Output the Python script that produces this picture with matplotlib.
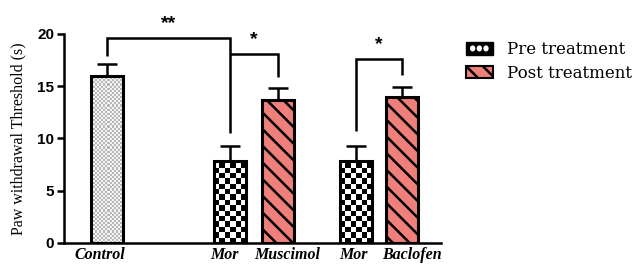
import numpy as np
import matplotlib
matplotlib.use("Agg")
import matplotlib.pyplot as plt
from matplotlib.patches import Rectangle, Ellipse
from matplotlib.legend_handler import HandlerBase

# ---- data ----
labels = ["Control", "Mor", "Muscimol", "Mor", "Baclofen"]
groups = ["control", "pre", "post", "pre", "post"]
means = [16.0, 7.85, 13.7, 7.85, 14.0]
errs = [1.15, 1.45, 1.1, 1.45, 0.9]
yticks = [0, 5, 10, 15, 20]
legend_labels = ["Pre treatment", "Post treatment"]
# significance: (left bar idx, right bar idx, top y, left end y, right end y, text)
sig = [(0, 1, 19.6, 17.9, 10.5, "**"),
       (1, 2, 18.1, 18.1, 15.9, "*"),
       (3, 4, 17.6, 10.7, 16.1, "*")]

# ---- layout ----
pos = [0.0, 3.85, 5.35, 7.77, 9.22]
label_shift = [-0.22, -0.16, 0.28, -0.06, 0.31]   # label offsets (bar widths)
width = 1.0
SALMON = "#ee7f7b"
LW = 1.8
HATCH = "\\\\"

plt.rcParams["hatch.linewidth"] = 1.8
fig = plt.figure(figsize=(6.34, 2.66), dpi=100)
ax = fig.add_axes([0.1009, 0.0865, 0.5946, 0.7857])


def checker_image(ax, x, h, ncols, row_h, c0, c1, patch):
    nrows = int(np.ceil(h / row_h)) + 1
    ii, jj = np.indices((nrows, ncols))
    pat = (ii + jj) % 2
    rgb0 = np.array(matplotlib.colors.to_rgb(c0))
    rgb1 = np.array(matplotlib.colors.to_rgb(c1))
    img = np.where(pat[..., None] == 1, rgb1, rgb0)
    im = ax.imshow(img, extent=(x - width / 2, x + width / 2, 0, nrows * row_h),
                   origin="lower", aspect="auto", interpolation="nearest", zorder=2)
    im.set_clip_path(patch)


for x, m, g in zip(pos, means, groups):
    if g == "post":
        ax.bar(x, m, width, color=SALMON, edgecolor="black", hatch=HATCH,
               linewidth=0, zorder=2)
    else:
        b = ax.bar(x, m, width, color="white", linewidth=0, zorder=1)[0]
        if g == "pre":
            checker_image(ax, x, m, 6, 0.51, "white", "black", b)
        else:
            checker_image(ax, x, m, 16, 0.2, "#f4f4f4", "#b8b8b8", b)
    ax.bar(x, m, width, fill=False, edgecolor="black", linewidth=2.2, zorder=3)

ax.errorbar(pos, means, yerr=[np.zeros(len(means)), errs], fmt="none",
            ecolor="black", elinewidth=LW, capsize=7, capthick=LW, zorder=2.5)

for i, j, top, yl, yr, t in sig:
    xs = [pos[i], pos[i], pos[j], pos[j]]
    ys = [yl, top, top, yr]
    ax.plot(xs, ys, color="black", lw=LW, clip_on=False,
            solid_joinstyle="miter", solid_capstyle="butt", zorder=4)
    ax.text((pos[i] + pos[j]) / 2, top + 0.55, t, ha="center", va="bottom",
            fontsize=14, fontweight="bold", family="Liberation Sans")

ax.set_xlim(-1.34, 10.44)
ax.set_ylim(0, 20)
ax.set_yticks(yticks)
ax.set_yticklabels([str(v) for v in yticks], fontsize=11, fontweight="bold",
                   family="Liberation Sans")
ax.set_xticks([p + s for p, s in zip(pos, label_shift)])
ax.set_xticklabels(labels, fontsize=11.5, fontweight="bold", style="italic",
                   family="Liberation Serif")
ax.tick_params(axis="x", length=0, pad=3)
ax.tick_params(axis="y", length=5, width=LW, pad=2)
ax.spines["top"].set_visible(False)
ax.spines["right"].set_visible(False)
for s in ("left", "bottom"):
    ax.spines[s].set_linewidth(LW)
ax.set_ylabel("Paw withdrawal Threshold (s)", family="Liberation Serif",
              fontsize=11.5, labelpad=8)


class HandlerChecker(HandlerBase):
    def create_artists(self, legend, orig_handle, xdescent, ydescent,
                       width, height, fontsize, trans):
        arts = [Rectangle((-xdescent, -ydescent), width, height,
                          facecolor="black", edgecolor="black", transform=trans)]
        for k in range(3):
            arts.append(Ellipse((-xdescent + width * (0.25 + 0.25 * k),
                                 -ydescent + height / 2), width * 0.2,
                                height * 0.5, facecolor="white",
                                edgecolor="none", transform=trans))
        return arts


h_pre = Rectangle((0, 0), 1, 1, facecolor="black")
h_post = Rectangle((0, 0), 1, 1, facecolor=SALMON, edgecolor="black",
                   hatch=HATCH, linewidth=1.5)
fig.legend([h_pre, h_post], legend_labels, handler_map={h_pre: HandlerChecker()},
           loc="upper left", bbox_to_anchor=(0.735, 0.845), frameon=False,
           prop={"family": "DejaVu Serif", "size": 12}, handlelength=1.6,
           handleheight=0.75, handletextpad=0.85, labelspacing=0.38,
           borderaxespad=0, borderpad=0)

fig.savefig("out.png", dpi=100)
